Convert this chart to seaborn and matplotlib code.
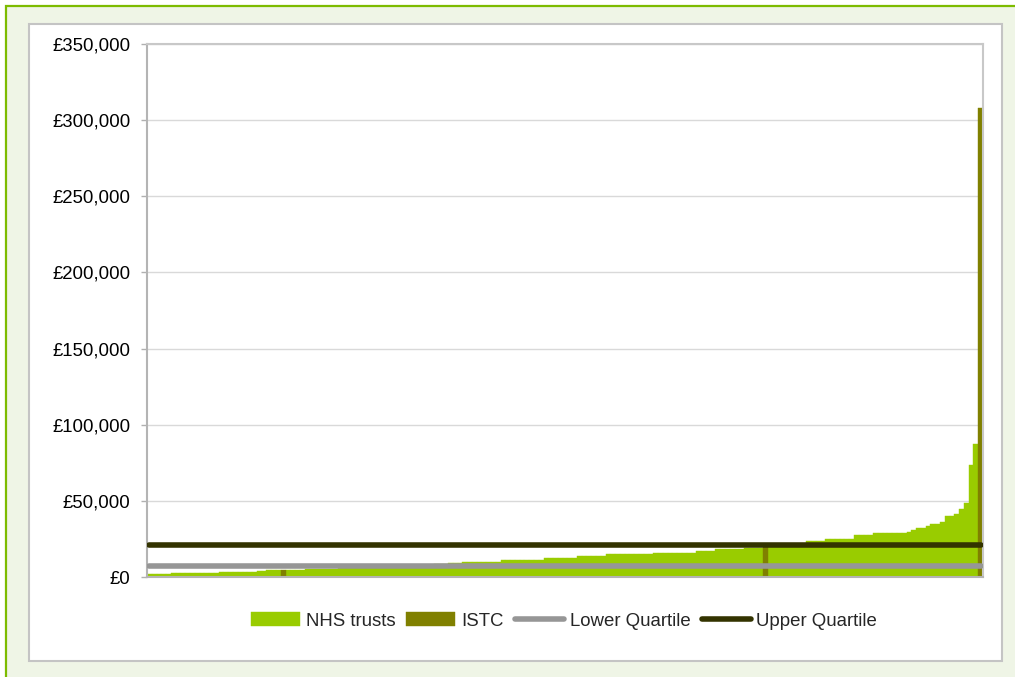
import numpy as np
import pandas as pd
import matplotlib
matplotlib.use("Agg")
import matplotlib.pyplot as plt
import seaborn as sns
from matplotlib.patches import Rectangle
from matplotlib.ticker import FuncFormatter

# ---- data (cost per provider, sorted ascending) ----
costs = [
    1900, 2000, 2000, 2100, 2100,
    2500, 2500, 2600, 2600, 2600, 2700, 2700, 2700, 2800, 2800,
    3400, 3400, 3500, 3500, 3500, 3600, 3600, 3600, 3700, 3700,
    4700, 4700, 4800, 4800, 4800, 4900, 4900, 4900, 5000, 5000, 5100, 5100,
    5400, 5500, 5500, 5700, 5800, 5900, 6100, 6100, 6200, 6400, 6500, 6500,
    6700, 6800, 6900, 7100, 7200, 7300, 7500, 7700, 7800, 8000, 8200, 8300,
    8600, 8800, 9000, 9200, 9400,
    9700, 9700, 9800, 9800, 9800, 9900, 9900, 9900,
    11000, 11000, 11100, 11100, 11100, 11200, 11200, 11200, 11300,
    12400, 12400, 12500, 12500, 12500, 12600, 12600,
    13700, 13800, 13800, 13800, 13900, 13900,
    15000, 15000, 15000, 15100, 15100, 15100, 15100, 15200, 15200, 15200,
    15600, 15600, 15700, 15700, 15700, 15700, 15800, 15800, 15800,
    16900, 17000, 17000, 17100,
    18200, 18300, 18300, 18400, 18600, 18700, 18800, 19000, 19200, 19300,
    19500, 19600, 19800, 20000, 20300, 20600, 20900, 21300, 21800,
    23400, 23500, 23600, 23700,
    24800, 24800, 24900, 24900, 25000, 25000,
    27400, 27500, 27500, 27600,
    28700, 28700, 28800, 28800, 28800, 28900, 28900,
    29500, 30800, 32000, 32200, 33400, 34600, 34800, 36000,
    39900, 40100, 41300, 44600, 48500, 73400, 87200, 308200,
]
istc_ranks = [28, 129, 174]
lower_quartile = 7400
upper_quartile = 21300
y_ticks = [0, 50000, 100000, 150000, 200000, 250000, 300000, 350000]
series_labels = ["NHS trusts", "ISTC", "Lower Quartile", "Upper Quartile"]
series_colors = ["#99cc00", "#808000", "#969696", "#333300"]

n = len(costs)
ranks = list(range(n))
provider = [series_labels[1] if r in istc_ranks else series_labels[0] for r in ranks]
df = pd.DataFrame({"rank": ranks, "cost": costs, "provider": provider})

sns.set_theme(style="white")
plt.rcParams["font.family"] = ["Liberation Sans", "DejaVu Sans"]
legend_size = 13.4
em_px = legend_size * 100 / 72

W, H = 1015, 677
fig = plt.figure(figsize=(W / 100, H / 100), dpi=100)
fig.patch.set_facecolor("white")

# outer light-green frame with green border (top/left visible)
fig.patches.append(Rectangle((6 / W, -0.1), 1.2, 1 - 6 / H + 0.1, transform=fig.transFigure,
                             facecolor="#eff5e6", edgecolor="#7dbb00", linewidth=1.6,
                             zorder=-3, clip_on=False))
# inner white panel
fig.patches.append(Rectangle((29 / W, 1 - 661 / H), (1002 - 29) / W, (661 - 24) / H,
                             transform=fig.transFigure, facecolor="white",
                             edgecolor="#c4c4c4", linewidth=1.5, zorder=-2))

ax = fig.add_axes([147 / W, 1 - 577 / H, (983 - 147) / W, (577 - 44) / H])
ax.set_facecolor("white")

sns.barplot(data=df, x="rank", y="cost", hue="provider",
            hue_order=series_labels[:2],
            palette={series_labels[0]: series_colors[0], series_labels[1]: series_colors[1]},
            saturation=1, dodge=False, width=1.0, linewidth=0, ax=ax, zorder=2)
for p in ax.patches:
    p.set_edgecolor(p.get_facecolor())
    p.set_linewidth(0.3)

sns.lineplot(x=ranks, y=[lower_quartile] * n, color=series_colors[2], linewidth=4,
             solid_capstyle="round", label=series_labels[2], ax=ax, zorder=3)
sns.lineplot(x=ranks, y=[upper_quartile] * n, color=series_colors[3], linewidth=4,
             solid_capstyle="round", label=series_labels[3], ax=ax, zorder=3)

ax.set_xlim(-0.5, n - 0.5)
ax.set_ylim(0, 350000)
ax.set_yticks(y_ticks)
ax.yaxis.set_major_formatter(FuncFormatter(lambda v, _: "£{:,.0f}".format(v)))
ax.set_xticks([])
ax.set_xlabel("")
ax.set_ylabel("")
ax.yaxis.grid(True, color="#d9d9d9", linewidth=1)
ax.set_axisbelow(True)
ax.tick_params(axis="y", which="major", left=True, length=4, width=1, color="#b0b0b0",
               pad=8, labelsize=13.4, labelcolor="black", direction="out")
for side in ["top", "right"]:
    ax.spines[side].set_color("#c8c8c8")
    ax.spines[side].set_linewidth(1.5)
for side in ["left", "bottom"]:
    ax.spines[side].set_color("#b4b4b4")
    ax.spines[side].set_linewidth(1.5)

handles, labels = ax.get_legend_handles_labels()
if ax.get_legend() is not None:
    ax.get_legend().remove()
order = [labels.index(l) for l in series_labels]
leg = fig.legend([handles[i] for i in order], [labels[i] for i in order],
                 loc="center", bbox_to_anchor=(564 / W, 1 - 621 / H), ncol=4,
                 frameon=False, handletextpad=6 / em_px, columnspacing=11 / em_px,
                 borderpad=0, handlelength=49 / em_px, handleheight=14 / em_px,
                 prop={"family": ["Liberation Sans"], "size": legend_size})
for h in leg.legend_handles:
    if hasattr(h, "set_solid_capstyle"):
        h.set_solid_capstyle("round")
        h.set_linewidth(4)

fig.savefig("out.png", dpi=100)
